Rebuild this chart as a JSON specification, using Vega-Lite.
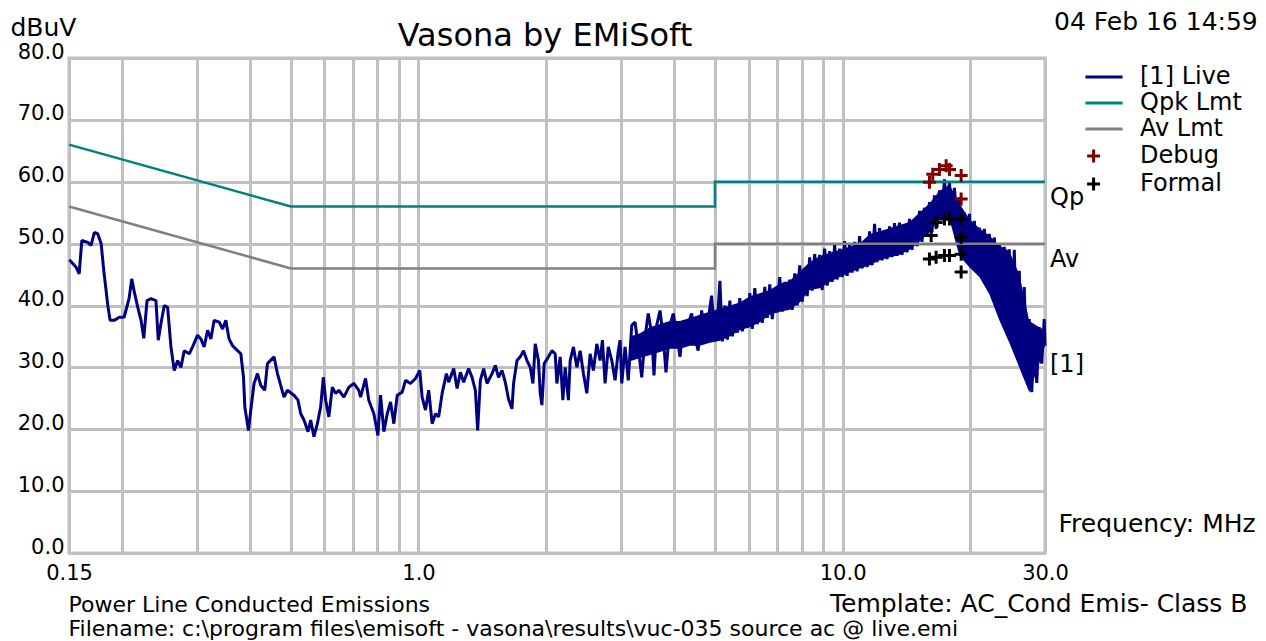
{
  "$schema": "https://vega.github.io/schema/vega-lite/v6.json",
  "width": 976,
  "height": 495,
  "autosize": {"type": "none"},
  "padding": {"left": 69, "top": 58, "right": 221, "bottom": 88},
  "background": "white",
  "title": {"text": "Vasona by EMiSoft", "fontSize": 32, "fontWeight": "normal", "font": "DejaVu Sans", "anchor": "middle", "frame": "group", "dx": -12, "dy": 48, "offset": -20, "baseline": "alphabetic", "color": "black"},
  "config": {
    "font": "DejaVu Sans",
    "view": {"stroke": "#c0c0c0", "strokeWidth": 3},
    "axis": {"labelFont": "DejaVu Sans", "labelFontSize": 21, "labelColor": "black", "gridColor": "#c0c0c0", "gridWidth": 3, "gridOpacity": 1, "ticks": false, "domain": false, "titleFont": "DejaVu Sans", "titleFontWeight": "normal", "titleColor": "black"}
  },
  "datasets": {
    "live": [
      {"f":0.1503,"v":47.4},{"f":0.1559,"v":46.2},{"f":0.1585,"v":45.1},{"f":0.1608,"v":50.5},{"f":0.1661,"v":50.2},{"f":0.1691,"v":49.7},{"f":0.1721,"v":51.8},{"f":0.1753,"v":51.6},{"f":0.1786,"v":50.0},{"f":0.1812,"v":45.6},
      {"f":0.1852,"v":40.0},{"f":0.1875,"v":37.6},{"f":0.1917,"v":37.6},{"f":0.1970,"v":38.1},{"f":0.2023,"v":38.1},{"f":0.2078,"v":41.1},{"f":0.2109,"v":44.3},{"f":0.2135,"v":42.4},{"f":0.2179,"v":39.7},{"f":0.2218,"v":37.6},
      {"f":0.2251,"v":34.7},{"f":0.2291,"v":40.8},{"f":0.2341,"v":41.1},{"f":0.2405,"v":40.8},{"f":0.2435,"v":34.4},{"f":0.2471,"v":37.1},{"f":0.2516,"v":40.0},{"f":0.2562,"v":39.7},{"f":0.2609,"v":33.3},{"f":0.2656,"v":29.5},
      {"f":0.2706,"v":31.1},{"f":0.2754,"v":30.0},{"f":0.2804,"v":32.7},{"f":0.2882,"v":32.2},{"f":0.2934,"v":33.3},{"f":0.3015,"v":35.2},{"f":0.3069,"v":34.6},{"f":0.3124,"v":33.3},{"f":0.3183,"v":36.0},{"f":0.3240,"v":34.6},
      {"f":0.3298,"v":37.6},{"f":0.3391,"v":37.3},{"f":0.3452,"v":36.2},{"f":0.3514,"v":37.6},{"f":0.3576,"v":34.6},{"f":0.3645,"v":33.5},{"f":0.3745,"v":32.7},{"f":0.3812,"v":32.2},{"f":0.3868,"v":28.4},{"f":0.3896,"v":23.6},
      {"f":0.3974,"v":19.8},{"f":0.4024,"v":23.1},{"f":0.4096,"v":27.4},{"f":0.4173,"v":29.0},{"f":0.4248,"v":27.1},{"f":0.4341,"v":26.3},{"f":0.4405,"v":30.6},{"f":0.4566,"v":31.7},{"f":0.4651,"v":29.0},{"f":0.4734,"v":27.1},
      {"f":0.4819,"v":25.2},{"f":0.4909,"v":26.3},{"f":0.5088,"v":25.5},{"f":0.5200,"v":24.7},{"f":0.5277,"v":22.5},{"f":0.5372,"v":21.5},{"f":0.5490,"v":19.6},{"f":0.5570,"v":21.5},{"f":0.5670,"v":18.8},{"f":0.5776,"v":20.9},
      {"f":0.5880,"v":23.6},{"f":0.5966,"v":28.4},{"f":0.6042,"v":24.7},{"f":0.6148,"v":22.0},{"f":0.6265,"v":26.8},{"f":0.6378,"v":25.8},{"f":0.6490,"v":26.3},{"f":0.6672,"v":25.2},{"f":0.6853,"v":26.8},{"f":0.7042,"v":27.4},
      {"f":0.7233,"v":26.3},{"f":0.7303,"v":25.2},{"f":0.7504,"v":28.2},{"f":0.7636,"v":24.7},{"f":0.7850,"v":22.5},{"f":0.8023,"v":19.0},{"f":0.8140,"v":25.5},{"f":0.8287,"v":19.6},{"f":0.8441,"v":22.5},{"f":0.8594,"v":24.4},
      {"f":0.8749,"v":20.9},{"f":0.8912,"v":25.5},{"f":0.9155,"v":26.0},{"f":0.9321,"v":27.9},{"f":0.9577,"v":27.4},{"f":0.9840,"v":28.2},{"f":1.0071,"v":29.5},{"f":1.0201,"v":25.2},{"f":1.0388,"v":23.1},{"f":1.0571,"v":26.3},
      {"f":1.0771,"v":20.9},{"f":1.0966,"v":22.5},{"f":1.1159,"v":22.0},{"f":1.1371,"v":25.8},{"f":1.1638,"v":29.0},{"f":1.1780,"v":27.6},{"f":1.2107,"v":29.8},{"f":1.2333,"v":26.6},{"f":1.2555,"v":29.2},{"f":1.2781,"v":27.6},
      {"f":1.3128,"v":29.8},{"f":1.3377,"v":28.4},{"f":1.3619,"v":26.3},{"f":1.3790,"v":19.8},{"f":1.3992,"v":27.9},{"f":1.4244,"v":29.8},{"f":1.4510,"v":27.4},{"f":1.4908,"v":29.0},{"f":1.5177,"v":30.3},{"f":1.5445,"v":28.4},
      {"f":1.5738,"v":29.5},{"f":1.6022,"v":27.6},{"f":1.6304,"v":24.9},{"f":1.6614,"v":23.3},{"f":1.6757,"v":27.4},{"f":1.7070,"v":31.1},{"f":1.7378,"v":31.7},{"f":1.7691,"v":32.7},{"f":1.8021,"v":31.1},{"f":1.8345,"v":30.0},
      {"f":1.8615,"v":27.4},{"f":1.8849,"v":33.8},{"f":1.9182,"v":31.1},{"f":1.9367,"v":25.8},{"f":1.9547,"v":23.9},{"f":1.9791,"v":30.6},{"f":2.0250,"v":31.7},{"f":2.0635,"v":32.7},{"f":2.1007,"v":32.2},{"f":2.1201,"v":27.4},
      {"f":2.1583,"v":31.7},{"f":2.1900,"v":24.7},{"f":2.2177,"v":30.0},{"f":2.2567,"v":24.7},{"f":2.2785,"v":31.1},{"f":2.3195,"v":33.3},{"f":2.3628,"v":30.0},{"f":2.4053,"v":32.7},{"f":2.4486,"v":29.0},{"f":2.4943,"v":25.8},
      {"f":2.5393,"v":32.2},{"f":2.5850,"v":29.5},{"f":2.6333,"v":33.8},{"f":2.6806,"v":31.1},{"f":2.7144,"v":34.4},{"f":2.7543,"v":27.4},{"f":2.8028,"v":33.3},{"f":2.8561,"v":31.1},{"f":2.9076,"v":27.9},{"f":2.9588,"v":32.7},
      {"f":2.9874,"v":34.4},{"f":3.0152,"v":27.4},{"f":3.0696,"v":33.3},{"f":3.1236,"v":27.9},{"f":3.1830,"v":36.8},{"f":3.2404,"v":37.3},{"f":3.2975,"v":33.3},{"f":3.3603,"v":28.4},{"f":3.4209,"v":34.9},{"f":3.4811,"v":38.7},
      {"f":3.5473,"v":35.4},{"f":3.5916,"v":28.7},{"f":3.6446,"v":36.8},{"f":3.7103,"v":39.2},{"f":3.7771,"v":34.9},{"f":3.8327,"v":29.2},{"f":3.9168,"v":36.8},{"f":3.9873,"v":38.7},{"f":4.0617,"v":35.4},{"f":4.1349,"v":31.7},
      {"f":4.2093,"v":36.5},{"f":4.3235,"v":37.0},{"f":4.4058,"v":38.7},{"f":4.4852,"v":34.9},{"f":4.5643,"v":32.7},{"f":4.6511,"v":39.2},{"f":4.7349,"v":35.4},{"f":4.8183,"v":37.6},{"f":4.9100,"v":41.6},{"f":4.9986,"v":34.4},
      {"f":5.0866,"v":39.2},{"f":5.136,"v":44.0},{"f":5.206,"v":34.2},{"f":5.277,"v":40.0},{"f":5.349,"v":34.5},{"f":5.422,"v":40.8},{"f":5.495,"v":35.0},{"f":5.571,"v":39.5},{"f":5.647,"v":35.6},{"f":5.723,"v":41.2},
      {"f":5.801,"v":35.8},{"f":5.881,"v":40.5},{"f":5.961,"v":36.4},{"f":6.042,"v":42.0},{"f":6.124,"v":36.2},{"f":6.208,"v":42.8},{"f":6.293,"v":37.0},{"f":6.378,"v":41.8},{"f":6.465,"v":37.2},{"f":6.554,"v":43.0},
      {"f":6.643,"v":38.0},{"f":6.734,"v":43.4},{"f":6.825,"v":37.8},{"f":6.919,"v":42.5},{"f":7.013,"v":38.9},{"f":7.108,"v":44.6},{"f":7.205,"v":39.0},{"f":7.304,"v":43.8},{"f":7.403,"v":39.5},{"f":7.504,"v":44.2},
      {"f":7.606,"v":39.3},{"f":7.710,"v":45.2},{"f":7.816,"v":40.0},{"f":7.922,"v":46.5},{"f":8.030,"v":40.6},{"f":8.140,"v":46.0},{"f":8.251,"v":41.5},{"f":8.363,"v":47.8},{"f":8.477,"v":42.4},{"f":8.593,"v":48.3},
      {"f":8.710,"v":43.0},{"f":8.829,"v":48.2},{"f":8.949,"v":42.5},{"f":9.071,"v":49.2},{"f":9.195,"v":43.2},{"f":9.320,"v":48.8},{"f":9.447,"v":43.8},{"f":9.576,"v":49.8},{"f":9.707,"v":44.2},{"f":9.839,"v":49.2},
      {"f":9.973,"v":44.6},{"f":10.109,"v":50.4},{"f":10.247,"v":44.8},{"f":10.387,"v":50.0},{"f":10.528,"v":45.3},{"f":10.673,"v":50.3},{"f":10.818,"v":45.5},{"f":10.965,"v":51.2},{"f":11.114,"v":46.0},{"f":11.266,"v":50.2},
      {"f":11.420,"v":46.2},{"f":11.575,"v":52.0},{"f":11.732,"v":46.5},{"f":11.893,"v":53.2},{"f":12.055,"v":47.0},{"f":12.220,"v":52.5},{"f":12.386,"v":47.3},{"f":12.556,"v":52.0},{"f":12.727,"v":47.5},{"f":12.900,"v":52.8},
      {"f":13.075,"v":47.8},{"f":13.255,"v":53.3},{"f":13.435,"v":48.0},{"f":13.618,"v":53.4},{"f":13.803,"v":48.2},{"f":13.992,"v":53.0},{"f":14.183,"v":48.6},{"f":14.377,"v":54.0},{"f":14.573,"v":49.0},{"f":14.772,"v":53.8},
      {"f":14.974,"v":49.6},{"f":15.177,"v":55.3},{"f":15.383,"v":50.3},{"f":15.594,"v":55.8},{"f":15.807,"v":51.2},{"f":16.022,"v":56.7},{"f":16.240,"v":51.8},{"f":16.463,"v":57.8},{"f":16.687,"v":52.6},{"f":16.914,"v":58.6},
      {"f":17.144,"v":54.0},{"f":17.379,"v":60.4},{"f":17.616,"v":54.5},{"f":17.856,"v":60.0},{"f":18.099,"v":54.0},{"f":18.347,"v":59.0},{"f":18.597,"v":54.0},{"f":18.850,"v":57.5},{"f":19.106,"v":47.5},{"f":19.368,"v":55.0},
      {"f":19.633,"v":47.0},{"f":19.899,"v":54.8},{"f":20.170,"v":46.2},{"f":20.446,"v":53.7},{"f":20.725,"v":45.5},{"f":21.007,"v":52.6},{"f":21.293,"v":44.6},{"f":21.585,"v":52.4},{"f":21.879,"v":43.2},{"f":22.177,"v":51.6},
      {"f":22.479,"v":41.8},{"f":22.787,"v":51.0},{"f":23.097,"v":40.5},{"f":23.411,"v":49.9},{"f":23.729,"v":37.6},{"f":24.055,"v":49.5},{"f":24.383,"v":36.2},{"f":24.715,"v":49.1},{"f":25.051,"v":34.0},{"f":25.395,"v":49.0},
      {"f":25.741,"v":32.5},{"f":26.091,"v":45.6},{"f":26.446,"v":30.0},{"f":26.808,"v":43.0},{"f":27.174,"v":28.0},{"f":27.542,"v":37.8},{"f":27.917,"v":26.0},{"f":28.299,"v":36.2},{"f":28.685,"v":27.5},{"f":29.076,"v":36.5},
      {"f":29.471,"v":30.6},{"f":29.875,"v":37.8},{"f":30.0,"v":33.5}
    ],
    "band": [
      {"f":3.154,"lo":31.0,"hi":35.0},{"f":3.329,"lo":31.5,"hi":35.5},{"f":3.515,"lo":32.0,"hi":36.5},{"f":3.710,"lo":32.5,"hi":37.0},{"f":3.917,"lo":33.0,"hi":37.5},
      {"f":4.135,"lo":33.0,"hi":37.5},{"f":4.365,"lo":33.5,"hi":38.0},{"f":4.608,"lo":33.5,"hi":38.5},{"f":4.865,"lo":34.0,"hi":39.0},{"f":5.136,"lo":34.3,"hi":39.5},
      {"f":5.422,"lo":35.0,"hi":40.0},{"f":5.723,"lo":36.0,"hi":40.5},{"f":6.042,"lo":36.5,"hi":41.5},{"f":6.378,"lo":37.3,"hi":42.0},{"f":6.734,"lo":38.5,"hi":42.5},
      {"f":7.108,"lo":39.0,"hi":43.5},{"f":7.504,"lo":39.3,"hi":44.0},{"f":7.922,"lo":40.5,"hi":45.5},{"f":8.363,"lo":42.5,"hi":47.0},{"f":8.829,"lo":42.8,"hi":48.0},
      {"f":9.320,"lo":43.8,"hi":48.5},{"f":9.839,"lo":44.6,"hi":49.0},{"f":10.387,"lo":45.3,"hi":49.5},{"f":10.965,"lo":46.0,"hi":50.0},{"f":11.575,"lo":46.5,"hi":51.5},
      {"f":12.220,"lo":47.3,"hi":52.0},{"f":12.900,"lo":47.8,"hi":52.5},{"f":13.618,"lo":48.2,"hi":53.0},{"f":14.377,"lo":49.0,"hi":53.5},{"f":15.177,"lo":50.3,"hi":55.0},
      {"f":16.022,"lo":51.8,"hi":56.5},{"f":16.914,"lo":54.0,"hi":58.5},{"f":17.856,"lo":54.0,"hi":59.5},{"f":18.850,"lo":48.0,"hi":56.5},{"f":19.899,"lo":46.2,"hi":54.0},
      {"f":21.007,"lo":44.6,"hi":52.5},{"f":22.177,"lo":41.8,"hi":51.3},{"f":23.411,"lo":37.6,"hi":49.7},{"f":24.715,"lo":34.0,"hi":48.8},{"f":26.091,"lo":30.0,"hi":45.0},
      {"f":27.542,"lo":26.0,"hi":37.5},{"f":29.076,"lo":30.6,"hi":36.5},{"f":30.0,"lo":33.5,"hi":36.0}
    ],
    "limits": [
      {"s":"Qpk Lmt","i":0,"f":0.15,"v":66},{"s":"Qpk Lmt","i":1,"f":0.5,"v":56},{"s":"Qpk Lmt","i":2,"f":5,"v":56},{"s":"Qpk Lmt","i":3,"f":5,"v":60},{"s":"Qpk Lmt","i":4,"f":30,"v":60},
      {"s":"Av Lmt","i":0,"f":0.15,"v":56},{"s":"Av Lmt","i":1,"f":0.5,"v":46},{"s":"Av Lmt","i":2,"f":5,"v":46},{"s":"Av Lmt","i":3,"f":5,"v":50},{"s":"Av Lmt","i":4,"f":30,"v":50}
    ],
    "marks": [
      {"s":"Debug","f":16.02,"v":59.9},{"s":"Debug","f":16.31,"v":61.2},{"s":"Debug","f":16.91,"v":62.0},{"s":"Debug","f":17.54,"v":62.6},{"s":"Debug","f":17.86,"v":62.0},{"s":"Debug","f":19.03,"v":61.0},{"s":"Debug","f":19.03,"v":57.2},
      {"s":"Formal","f":16.17,"v":51.3},{"s":"Formal","f":16.61,"v":53.4},{"s":"Formal","f":17.38,"v":54.0},{"s":"Formal","f":17.86,"v":54.0},{"s":"Formal","f":19.03,"v":54.0},{"s":"Formal","f":19.03,"v":51.0},
      {"s":"Formal","f":16.02,"v":47.5},{"s":"Formal","f":16.61,"v":47.8},{"s":"Formal","f":17.38,"v":48.1},{"s":"Formal","f":17.86,"v":48.1},{"s":"Formal","f":19.03,"v":48.3},{"s":"Formal","f":19.03,"v":45.4}
    ],
    "labels": [
      {"t":"Qp","f":30,"v":60},{"t":"Av","f":30,"v":50},{"t":"[1]","f":30,"v":33}
    ]
  },
  "layer": [
    {
      "layer": [
        {
          "data": {"name": "live"},
          "mark": {"type": "line", "strokeWidth": 3, "strokeJoin": "bevel"},
          "encoding": {
            "x": {"field": "f", "type": "quantitative", "scale": {"type": "log", "domain": [0.15, 30], "nice": false},
              "axis": {"orient": "bottom", "values": [0.15,0.2,0.3,0.4,0.5,0.6,0.7,0.8,0.9,1,2,3,4,5,6,7,8,9,10,20,30],
                "labelExpr": "datum.value == 0.15 ? '0.15' : (datum.value == 1 || datum.value == 10 || datum.value == 30) ? format(datum.value, '.1f') : ''",
                "labelOverlap": false, "labelFlush": false, "labelBaseline": "top", "labelPadding": 9, "labelAlign": "center",
                "title": "Frequency: MHz", "titleFontSize": 25, "titleX": 989, "titleY": -22, "titleAlign": "left", "titleBaseline": "alphabetic", "titleAngle": 0}},
            "y": {"field": "v", "type": "quantitative", "scale": {"domain": [0, 80], "nice": false, "zero": false},
              "axis": {"orient": "left", "values": [0,10,20,30,40,50,60,70,80], "format": ".1f", "labelBaseline": "alphabetic", "labelPadding": 5,
                "title": "dBuV", "titleFontSize": 25, "titleAngle": 0, "titleX": -59, "titleY": -23, "titleAlign": "left", "titleBaseline": "alphabetic"}},
            "color": {"datum": "[1] Live", "type": "nominal",
              "scale": {"domain": ["[1] Live", "Qpk Lmt", "Av Lmt", "Debug", "Formal"], "range": ["#000080", "#008080", "#808080", "#800000", "#000000"]},
              "legend": {"orient": "none", "legendX": 985, "legendY": -48, "title": "04 Feb 16 14:59", "titleLimit": 400, "titleFontSize": 25, "titleFontWeight": "normal", "titleFont": "DejaVu Sans", "titleColor": "black", "titlePadding": 30,
                "labelFontSize": 24, "labelFont": "DejaVu Sans", "labelColor": "black", "labelOffset": 24, "symbolOffset": 38, "symbolSize": 169, "rowPadding": 2, "symbolStrokeWidth": 3,
                "encode": {"symbols": {"update": {
                  "shape": {"signal": "datum.value == 'Debug' || datum.value == 'Formal' ? 'M-2.6,0H-0.6M-1.6,-1V1' : 'M-2.85,0H2.85'"},
                  "stroke": {"scale": "color", "field": "value"},
                  "fill": {"value": "transparent"},
                  "strokeWidth": {"value": 3},
                  "opacity": {"value": 1}}}}}}
          }
        },
        {
          "data": {"name": "band"},
          "mark": {"type": "area", "opacity": 1},
          "encoding": {
            "x": {"field": "f", "type": "quantitative"},
            "y": {"field": "lo", "type": "quantitative"},
            "y2": {"field": "hi"},
            "color": {"datum": "[1] Live", "type": "nominal"}
          }
        },
        {
          "data": {"name": "limits"},
          "mark": {"type": "line", "strokeWidth": 2.5},
          "encoding": {
            "x": {"field": "f", "type": "quantitative"},
            "y": {"field": "v", "type": "quantitative"},
            "color": {"field": "s", "type": "nominal"},
            "order": {"field": "i", "type": "quantitative"}
          }
        },
        {
          "data": {"name": "labels"},
          "mark": {"type": "text", "align": "left", "baseline": "middle", "dx": 5, "dy": 16, "fontSize": 24, "font": "DejaVu Sans", "color": "black"},
          "encoding": {
            "x": {"field": "f", "type": "quantitative"},
            "y": {"field": "v", "type": "quantitative"},
            "text": {"field": "t", "type": "nominal"}
          }
        }
      ]
    },
    {
      "data": {"name": "marks"},
      "mark": {"type": "point", "shape": "M-1,0H1M0,-1V1", "filled": false, "size": 169, "strokeWidth": 3, "opacity": 1},
      "encoding": {
        "x": {"field": "f", "type": "quantitative", "scale": {"type": "log", "domain": [0.15, 30], "nice": false},
          "axis": {"orient": "top", "labels": false, "ticks": false, "domain": false, "grid": false,
            "title": ["Power Line Conducted Emissions", "Filename: c:\\program files\\emisoft - vasona\\results\\vuc-035 source ac @ live.emi"],
            "titleFontSize": 22, "titleLineHeight": 24, "titleX": -1, "titleY": 553, "titleAlign": "left", "titleBaseline": "alphabetic", "titleAngle": 0}},
        "y": {"field": "v", "type": "quantitative", "scale": {"domain": [0, 80], "nice": false, "zero": false},
          "axis": {"orient": "right", "labels": false, "ticks": false, "domain": false, "grid": false,
            "title": "Template: AC_Cond Emis- Class B", "titleFontSize": 25, "titleX": 202, "titleY": 553, "titleAlign": "right", "titleBaseline": "alphabetic", "titleAngle": 0}},
        "color": {"field": "s", "type": "nominal"}
      }
    }
  ],
  "resolve": {"scale": {"x": "independent", "y": "independent"}}
}
